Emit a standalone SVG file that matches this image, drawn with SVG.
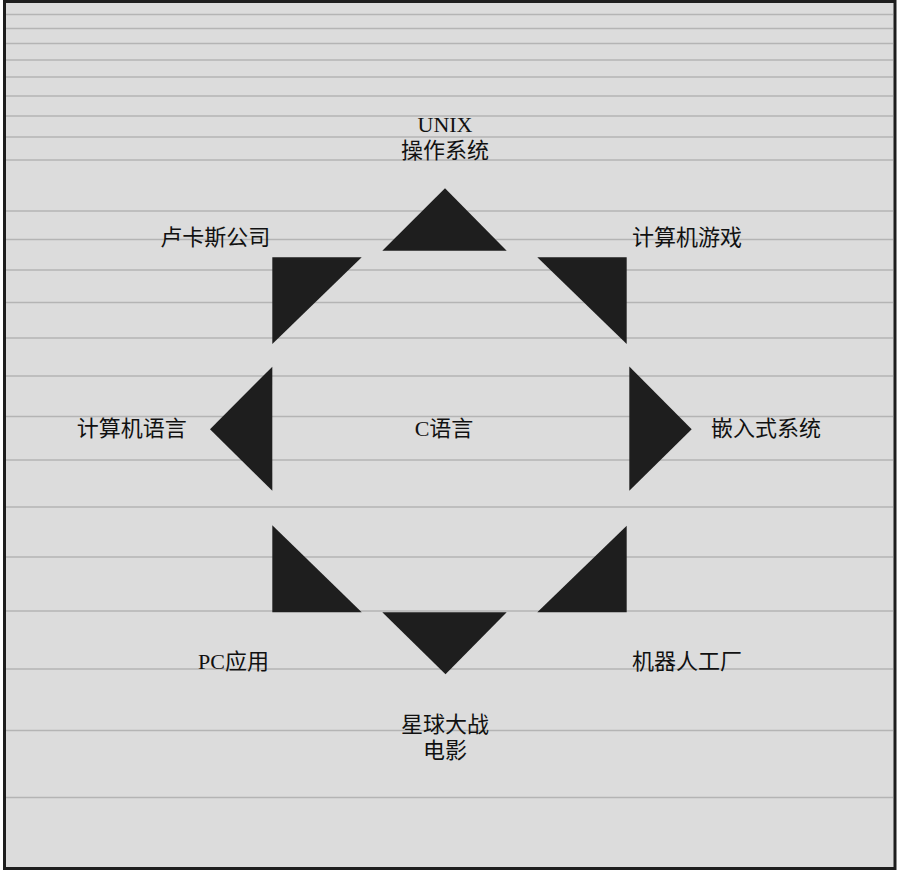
<svg xmlns="http://www.w3.org/2000/svg" width="897" height="870" viewBox="0 0 897 870">
<style>
.bg{fill:#dcdcdc;stroke:#1e1e1e;stroke-width:3}
.hl{stroke:#b4b4b4;stroke-width:1.5}
.tri{fill:#1e1e1e}
.lbl{font-family:"Liberation Serif","Noto Sans CJK SC",serif;font-size:22px;fill:#111;text-anchor:middle}
</style>
<rect class="bg" x="4.5" y="1.5" width="890.5" height="867"/>
<g id="lines" class="hl">
<line x1="6" y1="14.5" x2="893" y2="14.5"/>
<line x1="6" y1="28.5" x2="893" y2="28.5"/>
<line x1="6" y1="43.5" x2="893" y2="43.5"/>
<line x1="6" y1="60" x2="893" y2="60"/>
<line x1="6" y1="77" x2="893" y2="77"/>
<line x1="6" y1="96" x2="893" y2="96"/>
<line x1="6" y1="116" x2="893" y2="116"/>
<line x1="6" y1="137" x2="893" y2="137"/>
<line x1="6" y1="160" x2="893" y2="160"/>
<line x1="6" y1="211" x2="893" y2="211"/>
<line x1="6" y1="239.5" x2="893" y2="239.5"/>
<line x1="6" y1="270" x2="893" y2="270"/>
<line x1="6" y1="302.5" x2="893" y2="302.5"/>
<line x1="6" y1="338" x2="893" y2="338"/>
<line x1="6" y1="376" x2="893" y2="376"/>
<line x1="6" y1="416.5" x2="893" y2="416.5"/>
<line x1="6" y1="460" x2="893" y2="460"/>
<line x1="6" y1="507" x2="893" y2="507"/>
<line x1="6" y1="557" x2="893" y2="557"/>
<line x1="6" y1="611" x2="893" y2="611"/>
<line x1="6" y1="669" x2="893" y2="669"/>
<line x1="6" y1="730.5" x2="893" y2="730.5"/>
<line x1="6" y1="797.5" x2="893" y2="797.5"/>
</g>
<g id="connectors">
<polygon class="tri" points="445,188.3 382.3,250.7 506.7,250.7"/>
<polygon class="tri" points="537.3,257.3 626.7,257.3 626.7,344"/>
<polygon class="tri" points="629.3,366.5 691.7,429.3 629.3,490.7"/>
<polygon class="tri" points="626.7,525.7 626.7,612.3 537.3,612.3"/>
<polygon class="tri" points="382.3,612.3 506.7,612.3 445.5,674.3"/>
<polygon class="tri" points="272.3,525.3 272.3,612.3 361.7,612.3"/>
<polygon class="tri" points="272.3,366.7 210,429.3 272.3,490.7"/>
<polygon class="tri" points="272.3,257.3 361.7,257.3 272.3,344"/>
</g>
<g id="node-center"><text class="lbl" x="444" y="436">C语言</text></g>
<g id="node-unix"><text class="lbl" x="445" y="132"><tspan x="445">UNIX</tspan><tspan x="445" dy="26">操作系统</tspan></text></g>
<g id="node-game"><text class="lbl" x="687" y="244.5">计算机游戏</text></g>
<g id="node-embedded"><text class="lbl" x="766" y="436">嵌入式系统</text></g>
<g id="node-robot"><text class="lbl" x="687" y="669">机器人工厂</text></g>
<g id="node-starwars"><text class="lbl" x="445" y="732"><tspan x="445">星球大战</tspan><tspan x="445" dy="26">电影</tspan></text></g>
<g id="node-pc"><text class="lbl" x="233.5" y="669">PC应用</text></g>
<g id="node-lang"><text class="lbl" x="131.7" y="436">计算机语言</text></g>
<g id="node-lucas"><text class="lbl" x="215.3" y="244.5">卢卡斯公司</text></g>
</svg>
